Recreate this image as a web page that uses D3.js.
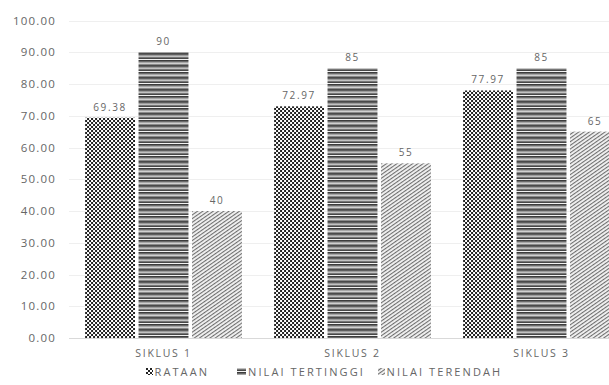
<!DOCTYPE html>
<html>
<head>
<meta charset="utf-8">
<script src="https://cdn.jsdelivr.net/npm/d3@7"></script>
<style>
html,body{margin:0;padding:0;background:#fff;}
svg{display:block;font-family:"Open Sans",sans-serif;}
</style>
</head>
<body>
<svg id="chart" width="609" height="385"></svg>
<script>
const categories = ["SIKLUS 1", "SIKLUS 2", "SIKLUS 3"];
const seriesNames = ["RATAAN", "NILAI TERTINGGI", "NILAI TERENDAH"];
const rataan = [69.38, 72.97, 77.97];
const tertinggi = [90, 85, 85];
const terendah = [40, 55, 65];
const labelText = [["69.38","72.97","77.97"],["90","85","85"],["40","55","65"]];
const yTicks = [0,10,20,30,40,50,60,70,80,90,100];

const seriesValues = [rataan, tertinggi, terendah];
const W = 609, H = 385;
const svg = d3.select("#chart");
svg.append("rect").attr("width", W).attr("height", H).attr("fill", "#fff");

const defs = svg.append("defs");
// Pattern 1: dotted confetti
const p1 = defs.append("pattern").attr("id","pat0").attr("patternUnits","userSpaceOnUse")
  .attr("width",4).attr("height",4);
p1.append("rect").attr("width",4).attr("height",4).attr("fill","#fff");
p1.append("rect").attr("x",0).attr("y",0).attr("width",2).attr("height",2).attr("fill","#222");
p1.append("rect").attr("x",2).attr("y",2).attr("width",2).attr("height",2).attr("fill","#222");
// Pattern 2: horizontal stripes of grays
const stripeColors = ["#3c3c3c","#6a6a6a","#a6a6a6","#d0d0d0","#8a8a8a","#4a4a4a","#5f5f5f","#9c9c9c","#c2c2c2","#767676","#474747","#f2f2f2"];
const p2 = defs.append("pattern").attr("id","pat1").attr("patternUnits","userSpaceOnUse")
  .attr("width",8).attr("height",stripeColors.length);
stripeColors.forEach((c,i)=>p2.append("rect").attr("x",0).attr("y",i).attr("width",8).attr("height",1).attr("fill",c));
// Pattern 3: upward diagonal hatch
const p3 = defs.append("pattern").attr("id","pat2").attr("patternUnits","userSpaceOnUse")
  .attr("width",3).attr("height",3).attr("patternTransform","rotate(-35)");
p3.append("rect").attr("width",3).attr("height",3).attr("fill","#f4f4f4");
p3.append("rect").attr("x",0).attr("y",0).attr("width",3).attr("height",1.1).attr("fill","#6e6e6e");

const y = d3.scaleLinear().domain([0,100]).range([338, 20.5]);
const x0 = d3.scaleBand().domain(categories).range([69, 636]).paddingInner(0.17).paddingOuter(0.085);
const x1 = d3.scaleBand().domain(seriesNames).range([0, x0.bandwidth()]).paddingInner(0.066);

// gridlines
svg.append("g").selectAll("line").data(yTicks).join("line")
  .attr("x1", 69).attr("x2", W)
  .attr("y1", d=>Math.round(y(d))+0.5).attr("y2", d=>Math.round(y(d))+0.5)
  .attr("stroke", d=> d===0 ? "#d9d9d9" : "#efefef").attr("stroke-width",1);

// y axis labels
svg.append("g").selectAll("text").data(yTicks).join("text")
  .attr("x", 56).attr("y", d=>y(d)+4)
  .attr("text-anchor","end").attr("font-size","11.5px").attr("letter-spacing","1.2px")
  .attr("fill","#666").text(d=>d3.format(".2f")(d));

// bars
const groups = svg.append("g").selectAll("g").data(categories).join("g")
  .attr("transform", d=>`translate(${x0(d)},0)`);
groups.each(function(cat, ci){
  const g = d3.select(this);
  seriesNames.forEach((s, si)=>{
    const v = seriesValues[si][ci];
    g.append("rect").attr("x", x1(s)).attr("y", y(v))
      .attr("width", x1.bandwidth()).attr("height", y(0)-y(v))
      .attr("fill", `url(#pat${si})`);
    g.append("text").attr("x", x1(s)+x1.bandwidth()/2).attr("y", y(v)-7)
      .attr("text-anchor","middle").attr("font-size","10px").attr("letter-spacing","1.6px")
      .attr("fill","#666").text(labelText[si][ci]);
  });
});

// x labels
svg.append("g").selectAll("text").data(categories).join("text")
  .attr("x", d=>x0(d)+x0.bandwidth()/2).attr("y", 357)
  .attr("text-anchor","middle").attr("font-size","10.5px").attr("letter-spacing","1.7px")
  .attr("fill","#666").text(d=>d);

// legend
const legendX = [146, 237, 378];
const lg = svg.append("g").selectAll("g").data(seriesNames).join("g")
  .attr("transform",(d,i)=>`translate(${legendX[i]},0)`);
lg.append("rect").attr("x",0).attr("y",368).attr("width",(d,i)=> i===1?9:7).attr("height",7)
  .attr("fill",(d,i)=>`url(#pat${i})`);
lg.append("text").attr("x",(d,i)=> i===1?11:8.5).attr("y",375.7)
  .attr("font-size","11px").attr("letter-spacing","2.1px").attr("fill","#666").text(d=>d);
</script>
</body>
</html>
